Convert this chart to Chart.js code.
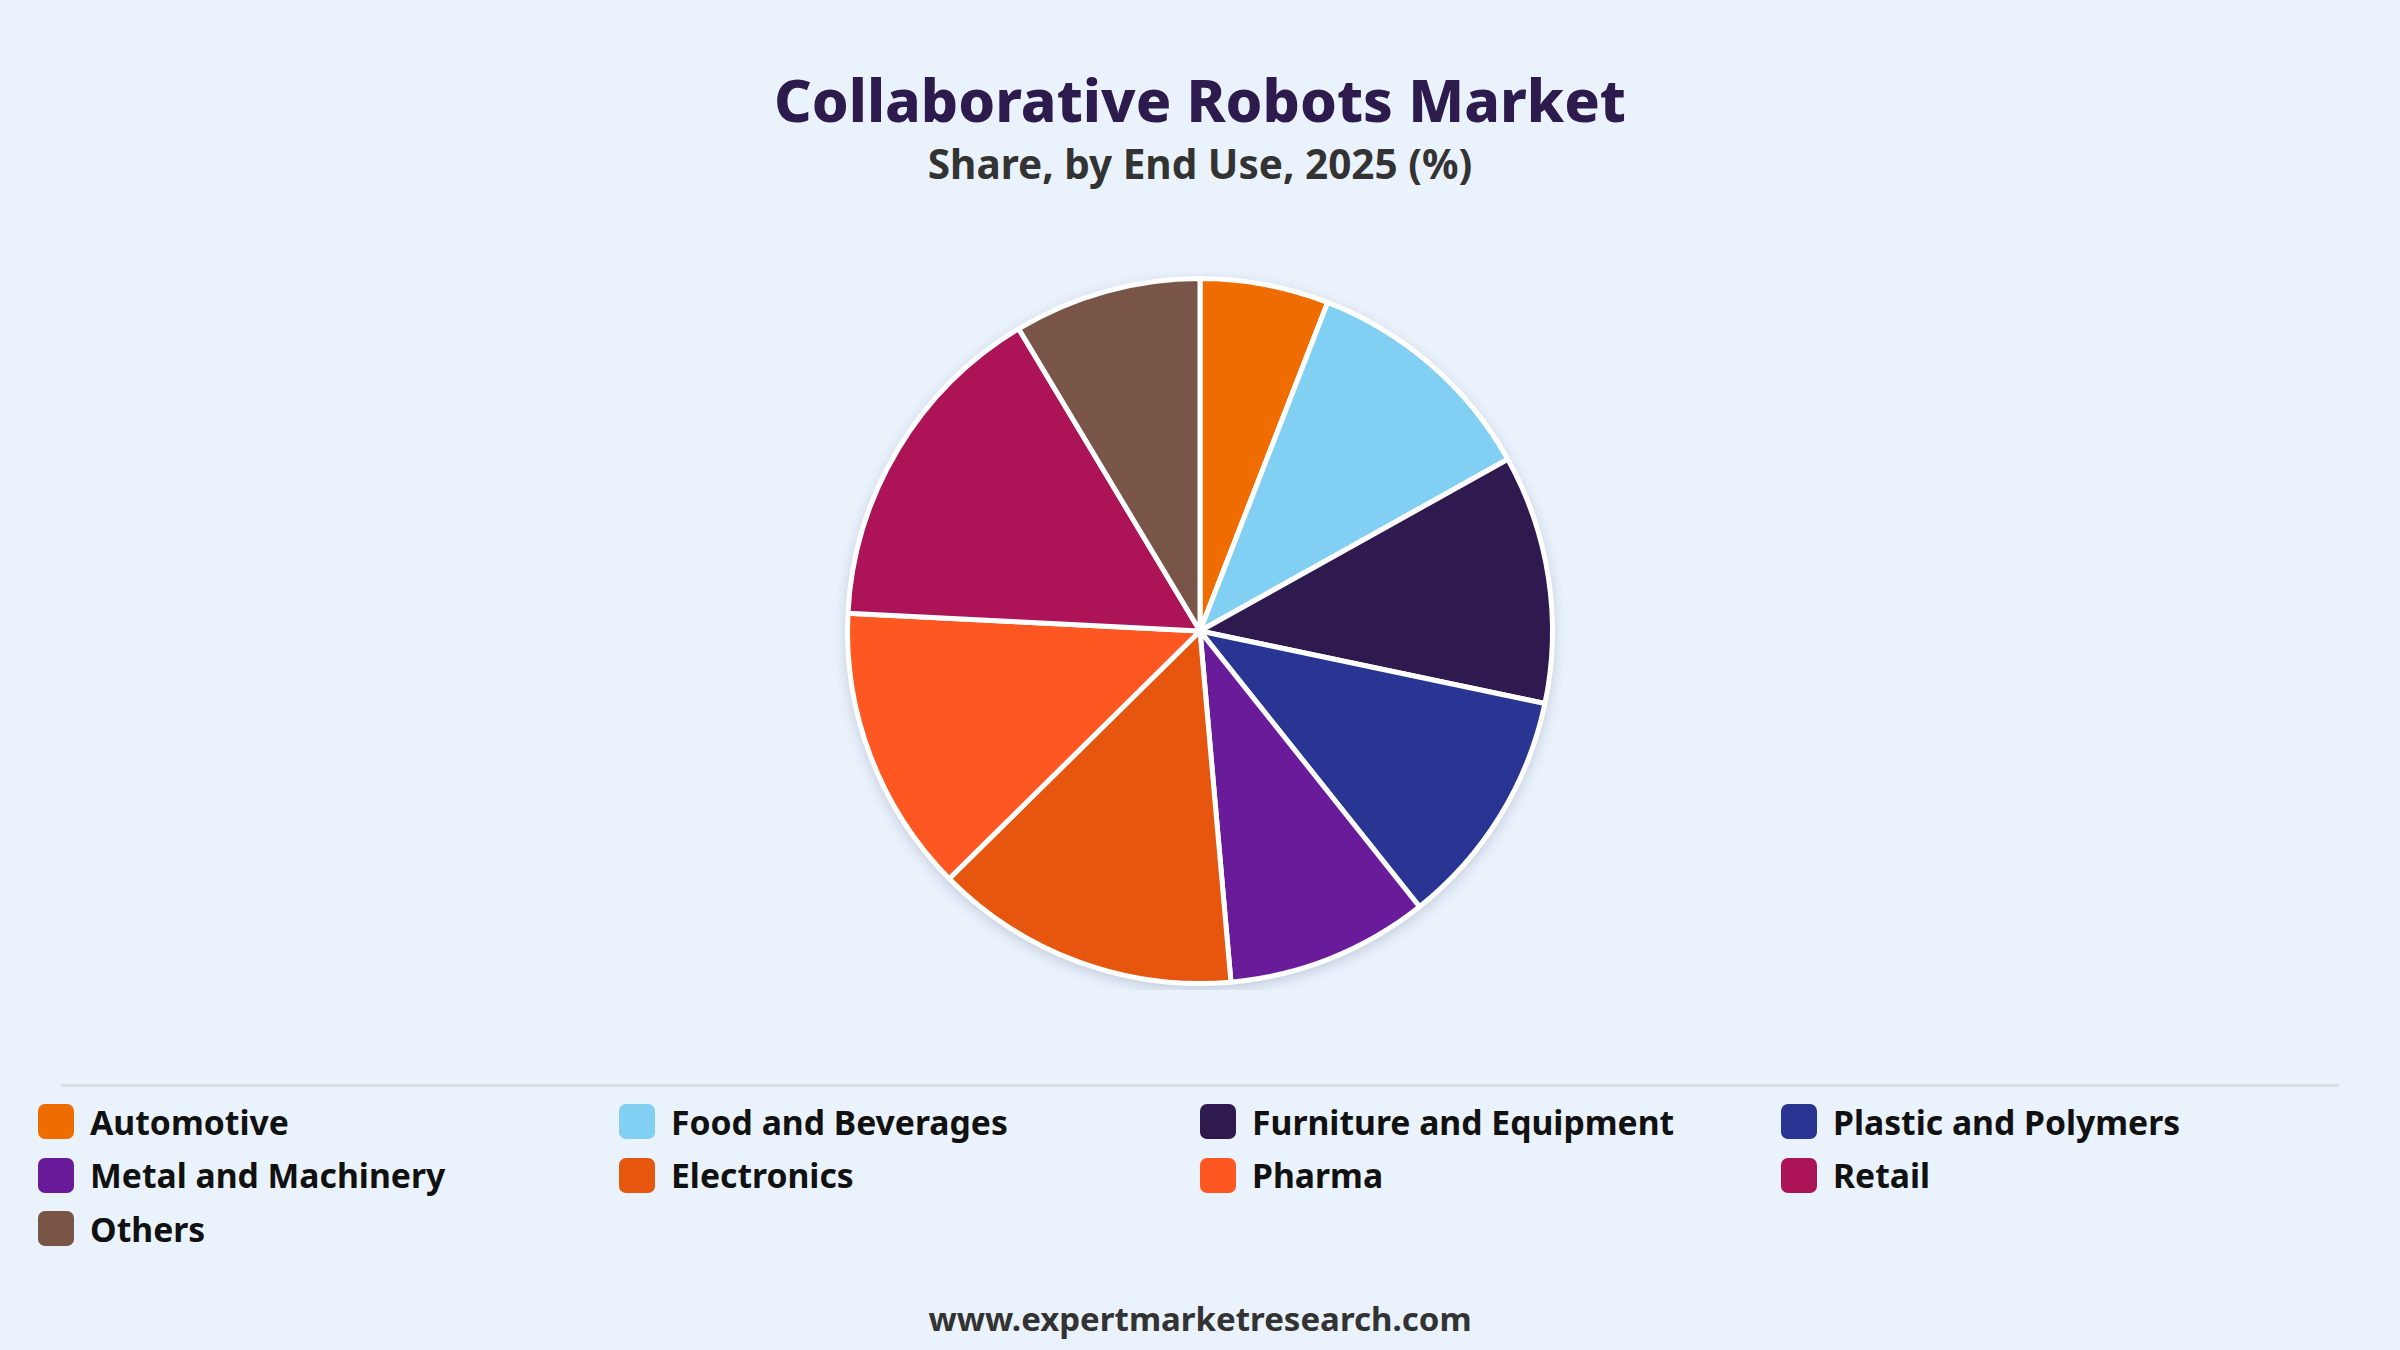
<!DOCTYPE html>
<html>
<head>
<meta charset="utf-8">
<script src="https://cdn.jsdelivr.net/npm/chart.js@4.4.1/dist/chart.umd.min.js"></script>
<style>
    body {
        margin: 0;
        width: 2400px;
        height: 1350px;
        background: #EAF2FC;
        position: relative;
        overflow: hidden;
        font-family: "Noto Sans", "Open Sans", sans-serif;
    }
    .center-text {
        position: absolute;
        left: 0;
        width: 2400px;
        text-align: center;
        font-weight: 700;
    }
    #title { top: 63px; line-height: 72px; font-size: 58.7px; font-weight: 800; color: #2D1B4E; }
    #subtitle { top: 139px; line-height: 50px; font-size: 40.5px; color: #333333; }
    #footer { top: 1296px; line-height: 46px; font-size: 33px; color: #333333; }
    #chartBox { position: absolute; left: 0; top: 272px; }
    #divider {
        position: absolute;
        left: 61px;
        width: 2278px;
        top: 1084px;
        height: 3px;
        background: #D9DEE4;
    }
    #legend {
        position: absolute;
        left: 38px;
        top: 1095px;
        display: grid;
        grid-template-columns: repeat(4, 581px);
        grid-auto-rows: 53.5px;
    }
    .item {
        display: flex;
        align-items: center;
        font-size: 33.7px;
        font-weight: 700;
        color: #111111;
    }
    .swatch {
        width: 36px;
        height: 35px;
        border-radius: 7px;
        margin-right: 16px;
        flex: none;
    }
</style>
</head>
<body>
<div id="title" class="center-text">Collaborative Robots Market</div>
<div id="subtitle" class="center-text">Share, by End Use, 2025 (%)</div>
<div id="chartBox"><canvas id="pieChart" width="2400" height="718"></canvas></div>
<div id="divider"></div>
<div id="legend"></div>
<div id="footer" class="center-text">www.expertmarketresearch.com</div>

<script>
// data
const categories = [
    'Automotive', 'Food and Beverages', 'Furniture and Equipment', 'Plastic and Polymers',
    'Metal and Machinery', 'Electronics', 'Pharma', 'Retail', 'Others'
];
const shares = [5.9, 11.0, 11.4, 11.0, 9.3, 14.0, 13.2, 15.6, 8.6];
const sliceColors = [
    '#EF6C00', '#81CFF2', '#2E1A4E', '#283593',
    '#6A1B9A', '#E6560F', '#FF5722', '#AD1457', '#795548'
];

// soft shadow behind the pie
const pieShadow = {
    id: 'pieShadow',
    beforeDatasetsDraw(chart) {
        const arc = chart.getDatasetMeta(0).data[0];
        if (!arc) return;
        const ctx = chart.ctx;
        ctx.save();
        ctx.shadowColor = 'rgba(30, 50, 80, 0.22)';
        ctx.shadowBlur = 14;
        ctx.shadowOffsetY = 4;
        ctx.fillStyle = '#ffffff';
        ctx.beginPath();
        ctx.arc(arc.x, arc.y, arc.outerRadius + 1, 0, Math.PI * 2);
        ctx.fill();
        ctx.restore();
    }
};

const ctx = document.getElementById('pieChart').getContext('2d');
const pieChart = new Chart(ctx, {
    type: 'pie',
    data: {
        labels: categories,
        datasets: [{
            data: shares,
            backgroundColor: sliceColors,
            borderColor: '#ffffff',
            borderWidth: 5
        }]
    },
    options: {
        responsive: false,
        animation: false,
        layout: { padding: 4 },
        plugins: {
            legend: { display: false },
            tooltip: { enabled: false }
        }
    },
    plugins: [pieShadow]
});

// legend in four fixed columns
const legend = document.getElementById('legend');
categories.forEach((name, i) => {
    const item = document.createElement('div');
    item.className = 'item';
    item.innerHTML = `<span class="swatch" style="background:${sliceColors[i]}"></span>${name}`;
    legend.appendChild(item);
});
</script>
</body>
</html>
